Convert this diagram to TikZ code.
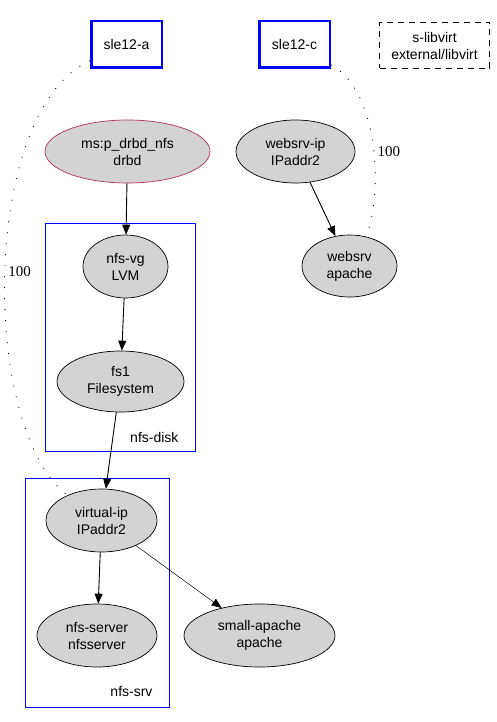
\documentclass[tikz,border=0pt]{standalone}
\usepackage{fontspec}
\setmainfont{Liberation Sans}
\newfontfamily\scorefont{Liberation Serif}
\usetikzlibrary{shapes.geometric,arrows.meta}
\definecolor{msred}{HTML}{B03060}
\definecolor{resgray}{HTML}{D3D3D3}
\begin{document}
\begin{tikzpicture}[x=1pt,y=-1pt,
        >={Triangle[length=10pt,width=8pt]},
        txt/.style={font=\fontsize{14}{17}\selectfont, align=center},
        res/.style={txt, ellipse, draw, fill=resgray, inner sep=0pt, line width=0.7pt},
        host/.style={txt, draw=blue, line width=2.5pt, minimum width=70.5pt, minimum height=46.5pt},
        cluster/.style={draw=blue, line width=0.8pt},
        score/.style={draw, dash pattern=on 1pt off 10pt, line width=0.8pt}]
        \useasboundingbox (0,0) rectangle (496,722);

        \node (sleA) [host] at (126.5,44.5) {sle12-a};
        \node (sleC) [host] at (294.5,44.5) {sle12-c};
        \node (libvirt) [txt, draw, dash pattern=on 6pt off 5pt, line width=0.8pt,
            minimum width=110pt, minimum height=46pt] at (434.5,45.5) {s-libvirt\\external/libvirt};

        \node (drbd) [res, draw=msred, minimum width=165pt, minimum height=63pt] at (127.5,151.5) {ms:p\_drbd\_nfs\\drbd};
        \node (websrvip) [res, minimum width=119pt, minimum height=63pt] at (295.5,151.5) {websrv-ip\\IPaddr2};
        \node (websrv) [res, minimum width=95pt, minimum height=62pt] at (349.5,266) {websrv\\apache};

        \node (nfsdisk) [cluster, minimum width=150pt, minimum height=228pt] at (120.5,337) {};
        \node (nfsdisklabel) [txt, anchor=east] at (182,437) {nfs-disk};
        \node (nfsvg) [res, minimum width=85pt, minimum height=63pt] at (125.5,266.5) {nfs-vg\\LVM};
        \node (fs1) [res, minimum width=127pt, minimum height=61pt] at (120.5,381.5) {fs1\\Filesystem};

        \node (nfssrv) [cluster, minimum width=144pt, minimum height=229pt] at (97,592.5) {};
        \node (nfssrvlabel) [txt, anchor=east] at (156,691) {nfs-srv};
        \node (virtualip) [res, minimum width=111pt, minimum height=63pt] at (101.5,520.5) {virtual-ip\\IPaddr2};
        \node (nfsserver) [res, minimum width=120pt, minimum height=63pt] at (97,635.5) {nfs-server\\nfsserver};
        \node (smallapache) [res, minimum width=151pt, minimum height=63pt] at (259.5,635.5) {small-apache\\apache};

        \path[->, line width=0.9pt]
            (drbd) edge (nfsvg)
            (nfsvg) edge (fs1)
            (fs1) edge (virtualip)
            (virtualip) edge (nfsserver)
            (websrvip) edge (websrv)
            (virtualip) edge [line width=0.5pt] (smallapache)
        ;

        \draw[score] (sleA) .. controls (-20,110) and (-20,430) .. (virtualip)
            node [pos=0.5, right, font=\scorefont\fontsize{15}{17}\selectfont] {100};
        \draw[score] (sleC) .. controls (385,95) and (380,210) .. (websrv)
            node [pos=0.5, right, font=\scorefont\fontsize{15}{17}\selectfont] {100};
    \end{tikzpicture}
\end{document}
